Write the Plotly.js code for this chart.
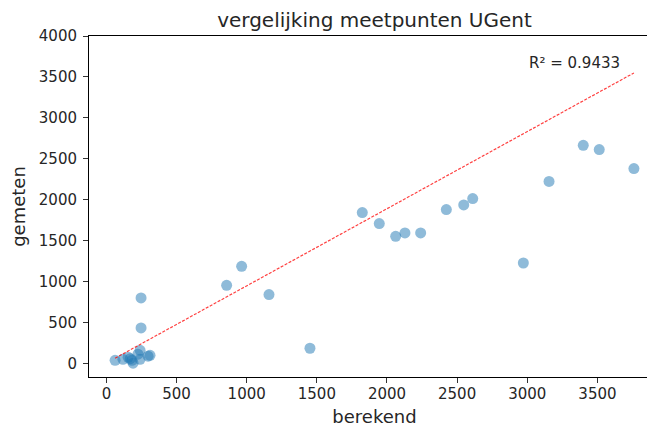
<!DOCTYPE html>
<html>
<head>
<meta charset="utf-8">
<script src="https://cdn.plot.ly/plotly-3.0.1.min.js"></script>
<style>
html,body{margin:0;padding:0;overflow:hidden;background:#fff;width:647px;height:427px;}
#chart{width:662px;height:427px;}
</style>
</head>
<body>
<div id="chart"></div>
<script>
// Data
const berekend = [3760, 3399, 3513, 3155, 2972, 2611, 2547, 2423, 2240, 2128, 2062, 1945, 1824,
                  964, 857, 1159, 1451, 247, 247, 62, 118, 155, 182, 190, 240, 240, 225, 311, 297, 170];
const gemeten  = [2381, 2665, 2613, 2224, 1228, 2015, 1937, 1880, 1595, 1595, 1554, 1709, 1844,
                  1188, 956, 842, 187, 801, 435, 40, 52, 77, 40, 5, 52, 162, 114, 101, 90, 60];
// Trend line parameters
const fitSlope = 0.942;
const fitIntercept = 7;
const r2Label = "R² = 0.9433";
const xTicks = [0, 500, 1000, 1500, 2000, 2500, 3000, 3500];
const yTicks = [0, 500, 1000, 1500, 2000, 2500, 3000, 3500, 4000];

const xMin = Math.min(...berekend), xMax = Math.max(...berekend);
const fitX = [xMin, xMax];
const fitY = fitX.map(v => fitSlope * v + fitIntercept);

const font = "DejaVu Sans, sans-serif";
const txt = "#262626";

const traces = [
  {
    x: berekend, y: gemeten, type: "scatter", mode: "markers",
    marker: {size: 11, color: "rgba(31,119,180,0.5)", line: {width: 0}},
    hoverinfo: "skip"
  },
  {
    x: fitX, y: fitY, type: "scatter", mode: "lines",
    line: {color: "rgba(255,0,0,0.75)", width: 1.2, dash: "3px,1.5px"},
    hoverinfo: "skip"
  }
];

const axisCommon = {
  showgrid: false, zeroline: false, showline: true, mirror: true,
  linecolor: "#000", linewidth: 1, ticks: "outside", ticklen: 5, tickwidth: 1,
  tickcolor: "#333", tickfont: {family: font, size: 15, color: txt}
};

const layout = {
  width: 662, height: 427,
  margin: {l: 89, r: 2, t: 36, b: 50},
  paper_bgcolor: "#fff", plot_bgcolor: "#fff",
  showlegend: false,
  title: {text: "vergelijking meetpunten UGent", font: {family: font, size: 20, color: txt},
          x: 0.5, xref: "paper", y: 1 - 20/427, yref: "container", yanchor: "middle"},
  xaxis: Object.assign({}, axisCommon, {
    range: [-124, 3946], tickvals: xTicks, ticktext: xTicks.map(String),
    ticklabelstandoff: -2,
    title: {text: "berekend", font: {family: font, size: 18, color: txt}}
  }),
  yaxis: Object.assign({}, axisCommon, {
    range: [-164, 4000], tickvals: yTicks, ticktext: yTicks.map(String),
    ticklabelstandoff: 3,
    title: {text: "gemeten", font: {family: font, size: 18, color: txt}, standoff: 8}
  }),
  annotations: [{
    x: 3000, y: 3670, xref: "x", yref: "y", text: r2Label, showarrow: false,
    xanchor: "left", yanchor: "middle", font: {family: font, size: 15, color: txt}
  }]
};

Plotly.newPlot("chart", traces, layout, {staticPlot: true, displayModeBar: false});
</script>
</body>
</html>
